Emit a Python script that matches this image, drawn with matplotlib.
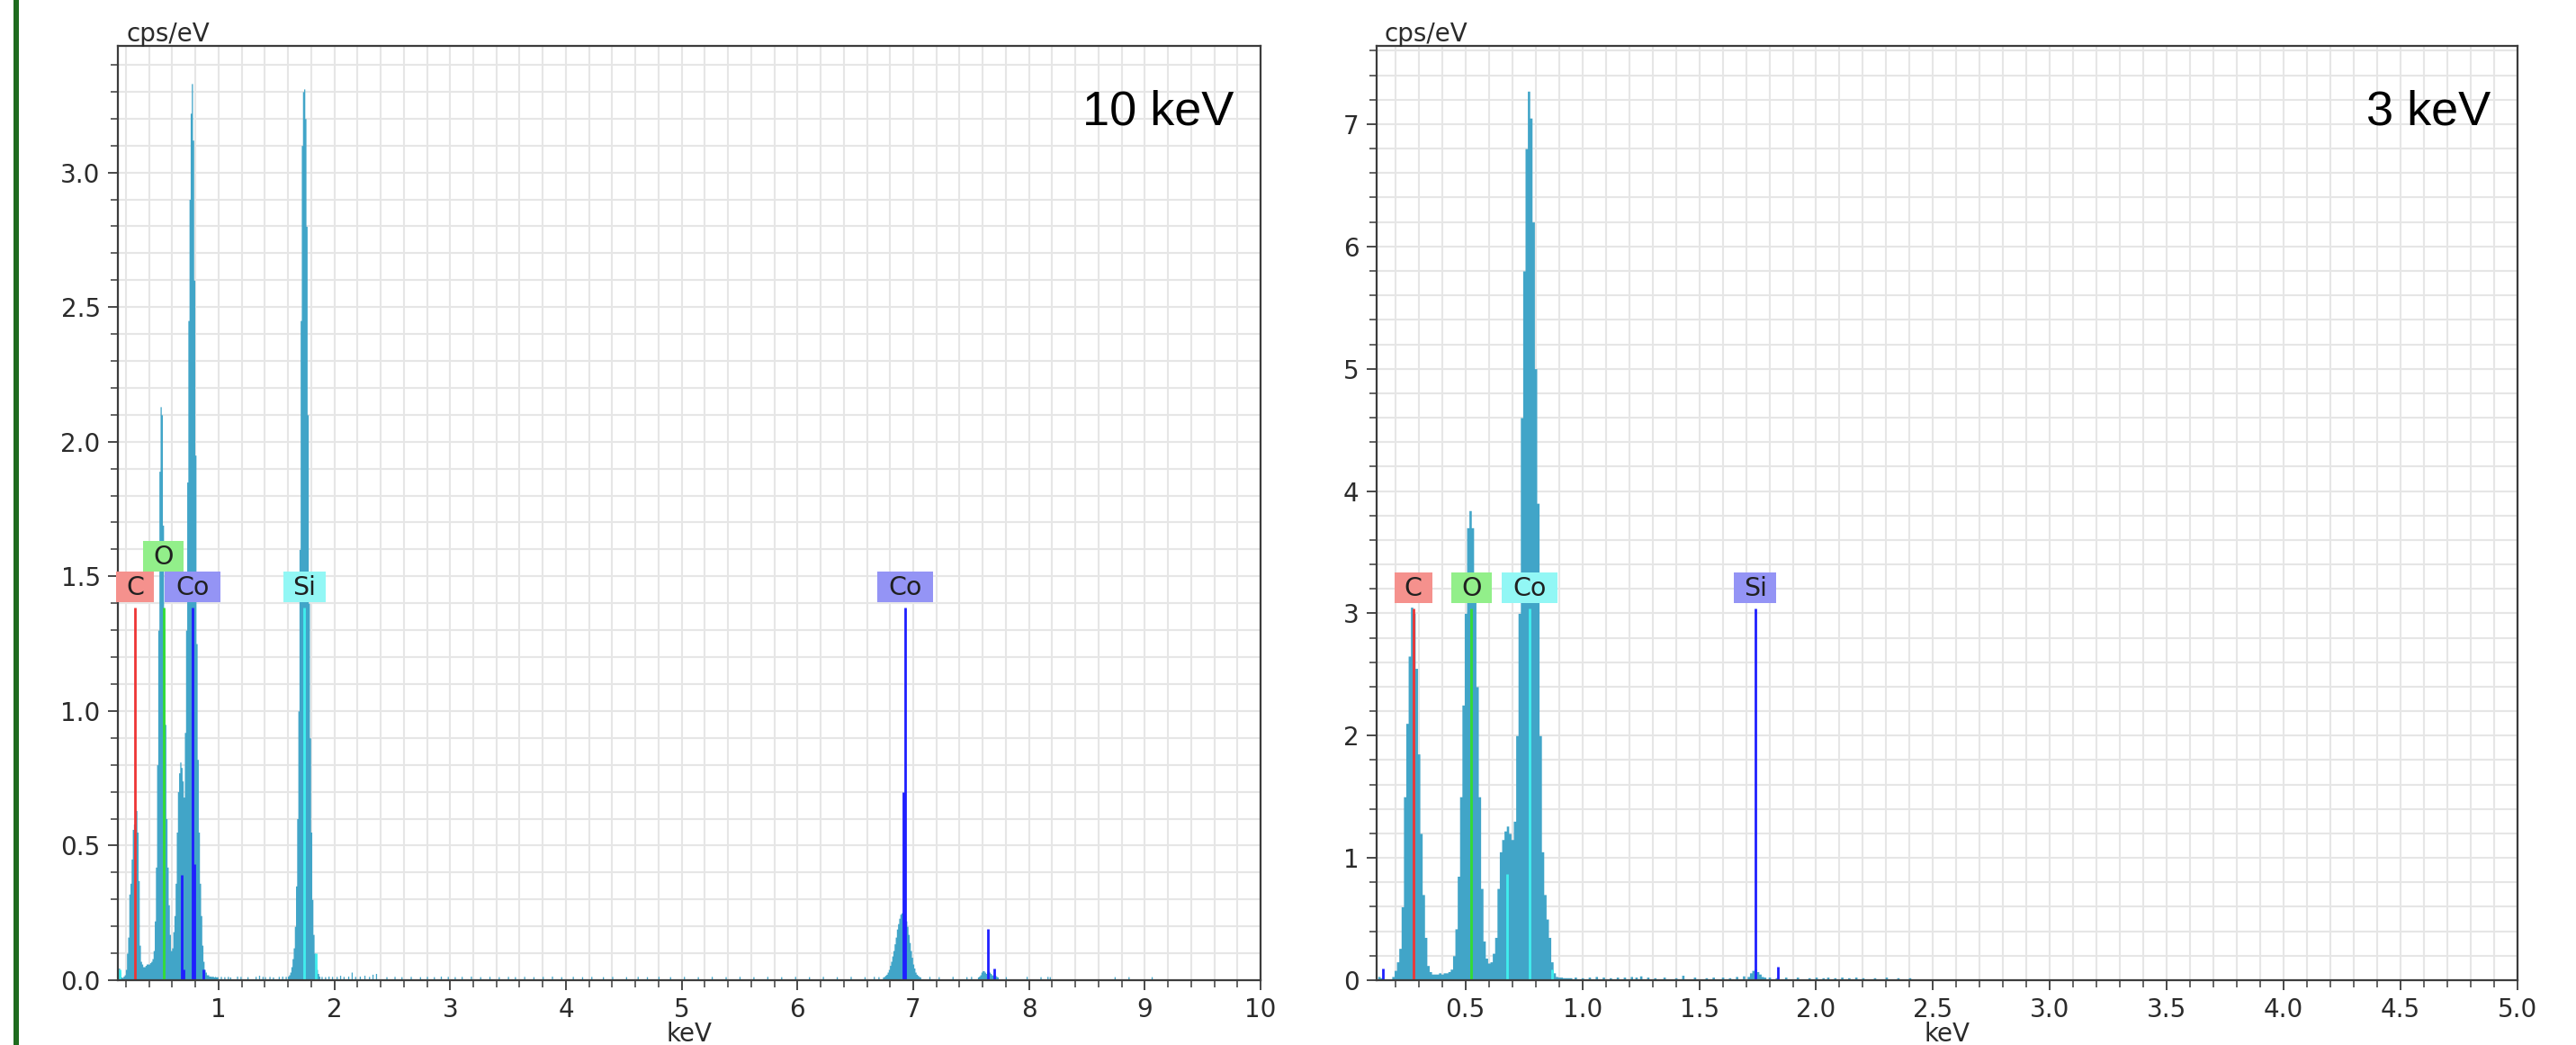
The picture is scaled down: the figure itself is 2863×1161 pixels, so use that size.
import numpy as np
import matplotlib
matplotlib.use('Agg')
import matplotlib.pyplot as plt
from matplotlib.patches import Rectangle
from matplotlib.transforms import IdentityTransform
from matplotlib.ticker import MultipleLocator, FormatStrFormatter

# ---------------- data (cps/eV per 10 eV channel) ----------------
# 10 keV spectrum
left_low_start = 0.13
left_low_counts = [
    0.03, 0.045, 0.03, 0.012, 0.01, 0.015, 0.02, 0.04, 0.10, 0.16,
    0.32, 0.36, 0.45, 0.56, 0.58, 0.635, 0.63, 0.55, 0.37, 0.13,
    0.07, 0.06, 0.05, 0.05, 0.055, 0.06, 0.06, 0.06, 0.065, 0.07,
    0.08, 0.11, 0.22, 0.42, 0.80, 1.30, 1.89, 2.13, 2.10, 1.69,
    1.30, 0.95, 0.60, 0.42, 0.28, 0.17, 0.11, 0.12, 0.18, 0.24,
    0.36, 0.55, 0.70, 0.77, 0.81, 0.79, 0.74, 0.68, 0.92, 1.30,
    1.85, 2.45, 2.90, 3.22, 3.33, 3.12, 2.60, 1.95, 1.25, 0.82,
    0.55, 0.36, 0.24, 0.13, 0.07, 0.04, 0.03, 0.02, 0.02, 0.015,
    0.015, 0.014, 0.015, 0.012, 0.014, 0.012, 0.013]
left_si_start = 1.60
left_si_counts = [
    0.015, 0.02, 0.03, 0.05, 0.08, 0.12, 0.20, 0.35, 0.60, 1.00,
    1.60, 2.45, 3.10, 3.30, 3.31, 3.20, 2.80, 2.10, 1.40, 0.90,
    0.55, 0.30, 0.17, 0.10, 0.06, 0.04, 0.025, 0.015]
left_coka_start = 6.74
left_coka_counts = [
    0.012, 0.014, 0.018, 0.022, 0.03, 0.04, 0.055, 0.07, 0.09, 0.11,
    0.135, 0.16, 0.19, 0.21, 0.23, 0.245, 0.25, 0.25, 0.245, 0.24,
    0.22, 0.20, 0.17, 0.14, 0.11, 0.085, 0.06, 0.045, 0.03, 0.022,
    0.018, 0.014, 0.012]
left_cokb_start = 7.56
left_cokb_counts = [
    0.012, 0.015, 0.02, 0.03, 0.035, 0.035, 0.03, 0.025, 0.03, 0.035,
    0.03, 0.025, 0.02, 0.018, 0.02, 0.018, 0.014, 0.012]
left_noise_e = [
    1.02, 1.05, 1.08, 1.10, 1.16, 1.19, 1.25, 1.32, 1.35, 1.38, 1.40, 1.44,
    1.47, 1.52, 1.55, 1.58, 1.89, 1.92, 1.95, 1.98, 2.02, 2.05, 2.08, 2.12,
    2.15, 2.18, 2.22, 2.26, 2.30, 2.33, 2.36, 2.45, 2.52, 2.58, 2.66, 2.74,
    2.80, 2.86, 2.92, 2.98, 3.04, 3.10, 3.18, 3.26, 3.34, 3.42, 3.50, 3.56,
    3.64, 3.72, 3.80, 3.88, 3.96, 4.06, 4.14, 4.22, 4.32, 4.40, 4.52, 4.62,
    4.70, 4.80, 4.90, 5.02, 5.14, 5.26, 5.38, 5.50, 5.62, 5.74, 5.86, 5.98,
    6.10, 6.22, 6.34, 6.46, 6.58, 6.66, 6.70, 7.14, 7.22, 7.34, 7.46, 7.50,
    7.80, 7.98, 8.10, 8.16, 8.18, 8.74, 8.86, 9.06]
left_noise_v = [
    0.014, 0.013, 0.014, 0.012, 0.015, 0.014, 0.013, 0.014, 0.018, 0.014, 0.013, 0.014,
    0.012, 0.014, 0.015, 0.014, 0.014, 0.013, 0.015, 0.014, 0.014, 0.018, 0.014, 0.015,
    0.03, 0.014, 0.015, 0.018, 0.014, 0.022, 0.025, 0.013, 0.014, 0.013, 0.014, 0.013,
    0.014, 0.013, 0.015, 0.014, 0.013, 0.014, 0.015, 0.013, 0.014, 0.013, 0.014, 0.013,
    0.014, 0.013, 0.014, 0.015, 0.013, 0.014, 0.013, 0.014, 0.013, 0.014, 0.013, 0.014,
    0.013, 0.014, 0.013, 0.014, 0.013, 0.014, 0.013, 0.014, 0.013, 0.014, 0.013, 0.014,
    0.013, 0.014, 0.013, 0.014, 0.013, 0.014, 0.013, 0.014, 0.013, 0.014, 0.013, 0.014,
    0.013, 0.014, 0.013, 0.014, 0.013, 0.013, 0.013, 0.013]

# 3 keV spectrum
right_low_start = 0.12
right_low_counts = [
    0.01, 0.03, 0.02, 0.01, 0.005, 0.005, 0.01, 0.03, 0.08, 0.15,
    0.26, 0.60, 1.50, 2.10, 2.65, 3.05, 3.00, 2.55, 1.85, 1.20,
    0.70, 0.35, 0.12, 0.07, 0.05, 0.05, 0.05, 0.06, 0.05, 0.06,
    0.06, 0.07, 0.09, 0.20, 0.42, 0.85, 1.50, 2.25, 3.00, 3.70,
    3.84, 3.70, 3.20, 2.40, 1.50, 0.75, 0.32, 0.18, 0.14, 0.15,
    0.22, 0.35, 0.75, 1.05, 1.15, 1.22, 1.26, 1.20, 1.15, 1.30,
    2.00, 3.00, 4.60, 5.80, 6.80, 7.27, 7.05, 6.20, 5.00, 3.90,
    2.00, 1.05, 0.70, 0.50, 0.35, 0.15, 0.06, 0.03, 0.025, 0.025,
    0.02, 0.02, 0.02, 0.02]
right_si_start = 1.71
right_si_counts = [0.03, 0.06, 0.08, 0.09, 0.07, 0.05, 0.03, 0.025]
right_noise_e = [
    0.97, 1.00, 1.03, 1.06, 1.09, 1.12, 1.15, 1.18, 1.21, 1.23, 1.25, 1.28,
    1.31, 1.35, 1.40, 1.43, 1.48, 1.53, 1.56, 1.60, 1.63, 1.66, 1.69, 1.80,
    1.83, 1.87, 1.92, 1.97, 2.00, 2.03, 2.05, 2.08, 2.11, 2.14, 2.17, 2.20,
    2.25, 2.30, 2.35, 2.40]
right_noise_v = [
    0.025, 0.02, 0.025, 0.03, 0.025, 0.02, 0.025, 0.025, 0.03, 0.025, 0.035, 0.025,
    0.02, 0.025, 0.02, 0.04, 0.025, 0.02, 0.025, 0.025, 0.02, 0.03, 0.035, 0.025,
    0.02, 0.025, 0.025, 0.02, 0.025, 0.02, 0.025, 0.02, 0.025, 0.02, 0.025, 0.02,
    0.02, 0.025, 0.02, 0.02]

# element marker lines: (energy keV, height cps/eV, colour key)
left_lines_e = [0.145, 0.277, 0.525, 0.678, 0.694, 0.776, 0.791, 0.870, 1.740, 1.836, 6.915, 6.930, 7.649, 7.700]
left_lines_h = [0.04, 1.385, 1.385, 0.39, 0.04, 1.385, 0.43, 0.04, 1.385, 0.10, 0.70, 1.385, 0.19, 0.045]
left_lines_c = ['cyan', 'red', 'green', 'blue', 'blue', 'blue', 'blue', 'blue', 'cyan', 'cyan', 'blue', 'blue', 'blue', 'blue']
right_lines_e = [0.148, 0.277, 0.525, 0.678, 0.776, 0.870, 1.740, 1.836]
right_lines_h = [0.095, 3.04, 3.04, 0.87, 3.04, 0.09, 3.04, 0.11]
right_lines_c = ['blue', 'red', 'green', 'cyan', 'cyan', 'cyan', 'blue', 'blue']

# element labels: (text, energy, height of line top, box colour key, row)
left_labels = [('C', 0.277, 1.385, 'red', 0), ('O', 0.525, 1.385, 'green', 1),
               ('Co', 0.776, 1.385, 'blue', 0), ('Si', 1.740, 1.385, 'cyan', 0),
               ('Co', 6.930, 1.385, 'blue', 0)]
right_labels = [('C', 0.277, 3.04, 'red', 0), ('O', 0.525, 3.04, 'green', 0),
                ('Co', 0.776, 3.04, 'cyan', 0), ('Si', 1.740, 3.04, 'blue', 0)]

# ---------------- style ----------------
SPEC = '#41a5c8'
LINE_COL = {'red': '#ee3535', 'green': '#33dd33', 'blue': '#1f1fff', 'cyan': '#40eeee'}
BOX_COL = {'red': '#f5918d', 'green': '#92ef8a', 'blue': '#9494f5', 'cyan': '#92f7f5'}
BOX_W = {'C': 42, 'O': 45, 'Co': 62, 'Si': 47}
BOX_H = 34
FRAME = '#3c3c3c'
TXT = '#2b2b2b'

W, H, DPI = 2863, 1161, 100
fig = plt.figure(figsize=(W / DPI, H / DPI), dpi=DPI)
fig.patch.set_facecolor('white')


def px_rect(l, t, r, b):
    return [l / W, 1 - b / H, (r - l) / W, (b - t) / H]


axL = fig.add_axes(px_rect(131, 51, 1401, 1089))
axR = fig.add_axes(px_rect(1530, 51, 2798, 1089))

CH = 0.01


def build(segments, noise_e, noise_v, emax):
    e = np.round(np.arange(0, emax + CH / 2, CH), 2)
    y = np.zeros_like(e)
    for ne, nv in zip(noise_e, noise_v):
        y[int(round(ne / CH))] = nv
    for start, vals in segments:
        i0 = int(round(start / CH))
        y[i0:i0 + len(vals)] = vals
    return e, y


eL, yL = build([(left_low_start, left_low_counts), (left_si_start, left_si_counts),
                (left_coka_start, left_coka_counts), (left_cokb_start, left_cokb_counts)],
               left_noise_e, left_noise_v, 10.0)
eR, yR = build([(right_low_start, right_low_counts), (right_si_start, right_si_counts)],
               right_noise_e, right_noise_v, 5.0)


def style_axes(ax, xlim, ylim, xmaj, xmin_, ymaj, ymin_, xfmt, yfmt):
    ax.set_xlim(*xlim)
    ax.set_ylim(*ylim)
    ax.xaxis.set_major_locator(MultipleLocator(xmaj))
    ax.xaxis.set_minor_locator(MultipleLocator(xmin_))
    ax.yaxis.set_major_locator(MultipleLocator(ymaj))
    ax.yaxis.set_minor_locator(MultipleLocator(ymin_))
    ax.xaxis.set_major_formatter(FormatStrFormatter(xfmt))
    ax.yaxis.set_major_formatter(FormatStrFormatter(yfmt))
    ax.grid(True, which='both', color='#e6e6e6', lw=1.5)
    ax.set_axisbelow(True)
    ax.tick_params(which='major', direction='out', length=7.9, width=1.3, color=FRAME,
                   labelsize=20, labelcolor=TXT, pad=6, top=False, right=False)
    ax.tick_params(which='minor', direction='out', length=5.5, width=1.1, color=FRAME,
                   top=False, right=False)
    for s in ax.spines.values():
        s.set_color(FRAME)
        s.set_linewidth(1.6)
        s.set_zorder(5)


style_axes(axL, (0.13, 10.0), (0, 3.47), 1, 0.2, 0.5, 0.1, '%d', '%.1f')
style_axes(axR, (0.12, 5.0), (0, 7.64), 0.5, 0.1, 1, 0.2, '%.1f', '%d')

for ax, e, y in ((axL, eL, yL), (axR, eR, yR)):
    ax.fill_between(e, 0, y, step='mid', color=SPEC, lw=0, zorder=2)

for ax, le, lh, lc in ((axL, left_lines_e, left_lines_h, left_lines_c),
                       (axR, right_lines_e, right_lines_h, right_lines_c)):
    ax.vlines(le, 0, lh, colors=[LINE_COL[c] for c in lc], lw=2.0, zorder=3)

ident = IdentityTransform()
for ax, labels in ((axL, left_labels), (axR, right_labels)):
    for txt, x, h, ck, row in labels:
        X, Y = ax.transData.transform((x, h))
        y0 = Y + 6 + row * BOX_H
        w = BOX_W[txt]
        fig.add_artist(Rectangle((X - w / 2, y0), w, BOX_H, transform=ident,
                                 facecolor=BOX_COL[ck], edgecolor='none', zorder=6))
        fig.text(X, y0 + BOX_H / 2 - 1, txt, transform=ident, ha='center', va='center',
                 fontsize=20.5, color='#202020', family='DejaVu Sans', zorder=7)

# axis unit labels
for xl in (140, 1538):
    fig.text(xl / W, 1 - 46 / H, 'cps/eV', fontsize=20, color=TXT, va='baseline', ha='left')
for xc in ((131 + 1401) / 2, (1530 + 2798) / 2):
    fig.text(xc / W, 4 / H, 'keV', fontsize=20, color=TXT, va='baseline', ha='center')

# panel titles
fig.text(1371 / W, 1 - 138.5 / H, '10 keV', fontsize=39, family='Liberation Sans',
         color='black', ha='right', va='baseline')
fig.text(2768 / W, 1 - 138.5 / H, '3 keV', fontsize=39, family='Liberation Sans',
         color='black', ha='right', va='baseline')

# dark green bar at the left edge
fig.add_artist(Rectangle((15 / W, 0), 6 / W, 1, transform=fig.transFigure,
                         facecolor='#1e6b1e', edgecolor='none'))

fig.savefig('out.png', dpi=DPI, facecolor='white')
